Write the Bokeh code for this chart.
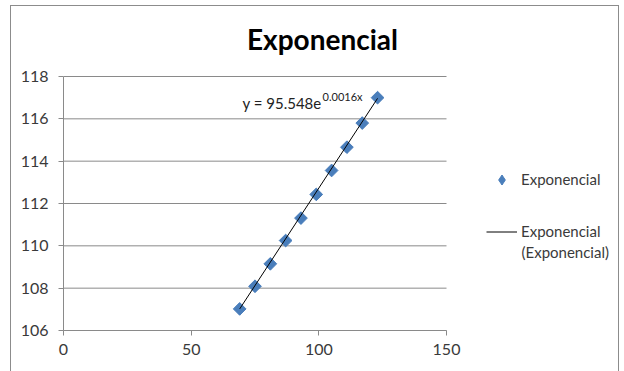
import numpy as np
from bokeh.plotting import figure
from bokeh.models import Label, Legend, LegendItem, FixedTicker
from bokeh.embed import file_html
from bokeh.resources import INLINE

# ---- data ----
x_vals = [69, 75, 81, 87, 93, 99, 105, 111, 117, 123]
y_vals = [107.02, 108.09, 109.15, 110.25, 111.31, 112.43, 113.56, 114.66, 115.80, 117.00]
x_ticks = [0, 50, 100, 150]
y_ticks = [106, 108, 110, 112, 114, 116, 118]
title_text = "Exponencial"
series_name = "Exponencial"
trend_name = "Exponencial"
trend_name2 = "(Exponencial)"
eq_main = "y = 95.548e"
eq_sup = "0.0016x"

FONT = "Lato"
W, H = 624, 371
# plot-area (axes box) placement in pixels
AX_L, AX_R, AX_T, AX_B = 63, 446, 76, 330
X0, X1 = x_ticks[0], x_ticks[-1]
Y0, Y1 = y_ticks[0], y_ticks[-1]
kx = (AX_R - AX_L) / (X1 - X0)      # px per x unit
ky = (AX_B - AX_T) / (Y1 - Y0)      # px per y unit
# the frame spans to the right/top edges so that the title and legend are not clipped
xr_end = X0 + (W - AX_L) / kx
yr_end = Y1 + AX_T / ky

def dx(px):
    return X0 + (px - AX_L) / kx

def dy(py):
    return Y1 - (py - AX_T) / ky

p = figure(width=W, height=H, output_backend="svg", toolbar_location=None,
           x_range=(X0, xr_end), y_range=(Y0, yr_end),
           min_border_left=AX_L, min_border_right=0, min_border_top=0,
           min_border_bottom=H - AX_B)
p.outline_line_color = None
p.background_fill_color = None
p.border_fill_color = None
g = "#8c8c8c"
p.styles = {
    "background": (f"linear-gradient({g},{g}) 10px 5px / 1px 400px no-repeat, "
                   f"linear-gradient({g},{g}) 10px 5px / 609px 1px no-repeat, "
                   f"linear-gradient({g},{g}) 618px 5px / 1px 400px no-repeat, white"),
}

grid_col = "#8a8a8a"
txt_col = "#3a3a3a"
p.xgrid.visible = False
p.ygrid.visible = False
# horizontal gridlines across the plot area only
p.segment(x0=[X0] * len(y_ticks), x1=[X1] * len(y_ticks), y0=y_ticks, y1=y_ticks,
          line_color=grid_col, line_width=1)

p.yaxis.ticker = FixedTicker(ticks=y_ticks)
p.xaxis.ticker = FixedTicker(ticks=x_ticks)
p.xaxis.bounds = (X0, X1)
p.yaxis.bounds = (Y0, Y1)
for ax in (p.xaxis[0], p.yaxis[0]):
    ax.axis_line_color = grid_col
    ax.major_tick_line_color = grid_col
    ax.major_tick_out = 5
    ax.major_tick_in = 0
    ax.minor_tick_line_color = None
    ax.major_label_text_font = FONT
    ax.major_label_text_font_size = "16px"
    ax.major_label_text_color = txt_col
p.yaxis.major_label_standoff = 10
p.xaxis.major_label_standoff = 8

# trend line (exponential least-squares fit of the data)
xa = np.array(x_vals, dtype=float)
ya = np.array(y_vals, dtype=float)
b, ln_a = np.polyfit(xa, np.log(ya), 1)
xt = np.array([xa.min(), xa.max()])
yt = np.exp(ln_a) * np.exp(b * xt)

blue = "#4a7ebb"
# diamond renderer used for the legend swatch; fully covered by the markers drawn on top
sc_leg = p.scatter(x_vals, y_vals, marker="diamond", size=11, fill_color=blue,
                   line_color=blue)
sc = p.scatter(x_vals, y_vals, marker="square", angle=np.pi / 4, size=9,
               fill_color=blue, line_color=blue)
ln = p.line(xt, yt, line_color="black", line_width=1)

legend = Legend(items=[LegendItem(label=series_name, renderers=[sc_leg]),
                       LegendItem(label=trend_name, renderers=[ln])],
                location=(486 - AX_L, AX_B - 243.5),
                orientation="vertical", padding=0, margin=0, spacing=27,
                glyph_width=31, glyph_height=25, label_height=25,
                label_standoff=4, border_line_color=None,
                background_fill_alpha=0,
                label_text_font=FONT, label_text_font_size="15px",
                label_text_color=txt_col)
p.add_layout(legend, "center")

p.add_layout(Label(x=dx(521), y=dy(251), text=trend_name2, text_font=FONT,
                   text_font_size="15px", text_color=txt_col,
                   text_align="left", text_baseline="middle"))

# title
p.add_layout(Label(x=dx(322), y=dy(38), text=title_text, text_font=FONT,
                   text_font_size="28px", text_font_style="bold",
                   text_color="black", text_align="center", text_baseline="middle"))

# equation
p.add_layout(Label(x=dx(242), y=dy(102), text=eq_main, text_font=FONT,
                   text_font_size="15px", text_color="#222222",
                   text_align="left", text_baseline="middle"))
p.add_layout(Label(x=dx(362), y=dy(96), text=eq_sup, text_font=FONT,
                   text_font_size="11px", text_color="#222222",
                   text_align="right", text_baseline="middle"))

open("out.html", "w").write(file_html(p, INLINE))
